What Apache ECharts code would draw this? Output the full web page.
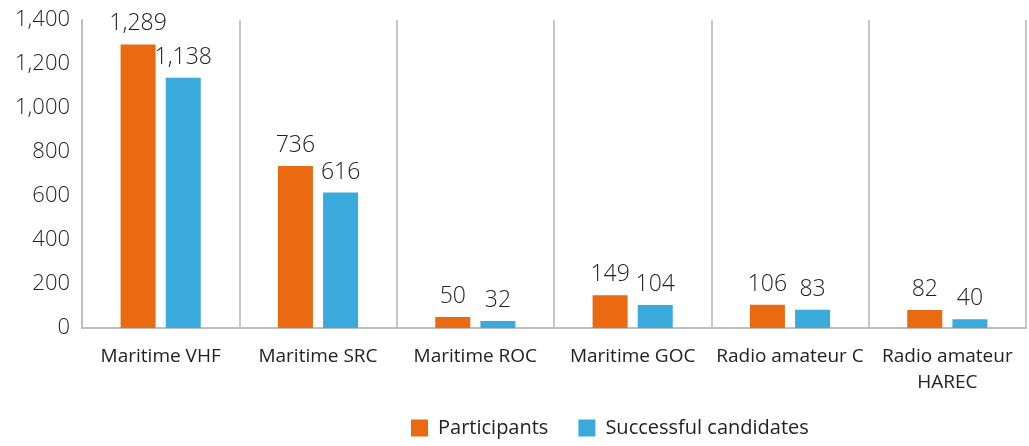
<!DOCTYPE html>
<html lang="en">
<head>
    <meta charset="UTF-8">
    <title>Exam participants</title>
    <script type="text/javascript" src="https://cdn.jsdelivr.net/npm/echarts@6/dist/echarts.min.js"></script>
    <style>
        body{
            padding: 0px;
            margin: 0px;
            background-color: #ffffff;
        }
        #bar{
            width: 1029px;
            height: 446px;
        }
    </style>
</head>
<body>
    <div id="bar"></div>
    <script>
    var categories = ['Maritime VHF', 'Maritime SRC', 'Maritime ROC', 'Maritime GOC', 'Radio amateur C', 'Radio amateur\nHAREC'];
    var participants = [1289, 736, 50, 149, 106, 82];
    var successful = [1138, 616, 32, 104, 83, 40];
    var yTicks = [0, 200, 400, 600, 800, 1000, 1200, 1400];

    function fmt(v) {
        return Number(v).toLocaleString('en-US');
    }

    var chart = echarts.init(document.getElementById('bar'), null, {renderer: 'canvas'});
    var labelStyle = {
        show: true,
        position: 'top',
        distance: 9,
        fontFamily: 'Open Sans',
        fontWeight: 300,
        fontSize: 23,
        color: '#222',
        formatter: function (p) { return fmt(p.value); }
    };
    chart.setOption({
        animation: false,
        textStyle: {fontFamily: 'Open Sans'},
        grid: {left: 82, right: 3, top: 20, bottom: 118},
        legend: {
            bottom: 3,
            left: 406,
            itemWidth: 17,
            itemHeight: 17,
            itemGap: 30,
            icon: 'rect',
            textStyle: {fontSize: 20, color: '#222', fontFamily: 'Open Sans', padding: [0, 0, 0, 5]},
            data: ['Participants', 'Successful candidates']
        },
        xAxis: {
            type: 'category',
            data: categories,
            axisLine: {lineStyle: {color: '#bfbfbf', width: 2}},
            axisTick: {show: false},
            splitLine: {show: true, lineStyle: {color: '#c8c8c8', width: 2}},
            axisLabel: {fontSize: 19, color: '#222', margin: 16, lineHeight: 26, interval: 0}
        },
        yAxis: {
            type: 'value',
            min: yTicks[0],
            max: yTicks[yTicks.length - 1],
            interval: 200,
            axisLine: {show: true, lineStyle: {color: '#bfbfbf', width: 2}},
            axisTick: {show: false},
            splitLine: {show: false},
            axisLabel: {fontSize: 22, fontWeight: 300, color: '#222', margin: 12, formatter: fmt}
        },
        series: [
            {
                name: 'Participants',
                type: 'bar',
                data: participants,
                barWidth: 35,
                barGap: '29%',
                itemStyle: {color: '#E96A10'},
                label: labelStyle
            },
            {
                name: 'Successful candidates',
                type: 'bar',
                data: successful,
                barWidth: 35,
                itemStyle: {color: '#3AAADC'},
                label: labelStyle
            }
        ]
    });
    </script>
</body>
</html>
